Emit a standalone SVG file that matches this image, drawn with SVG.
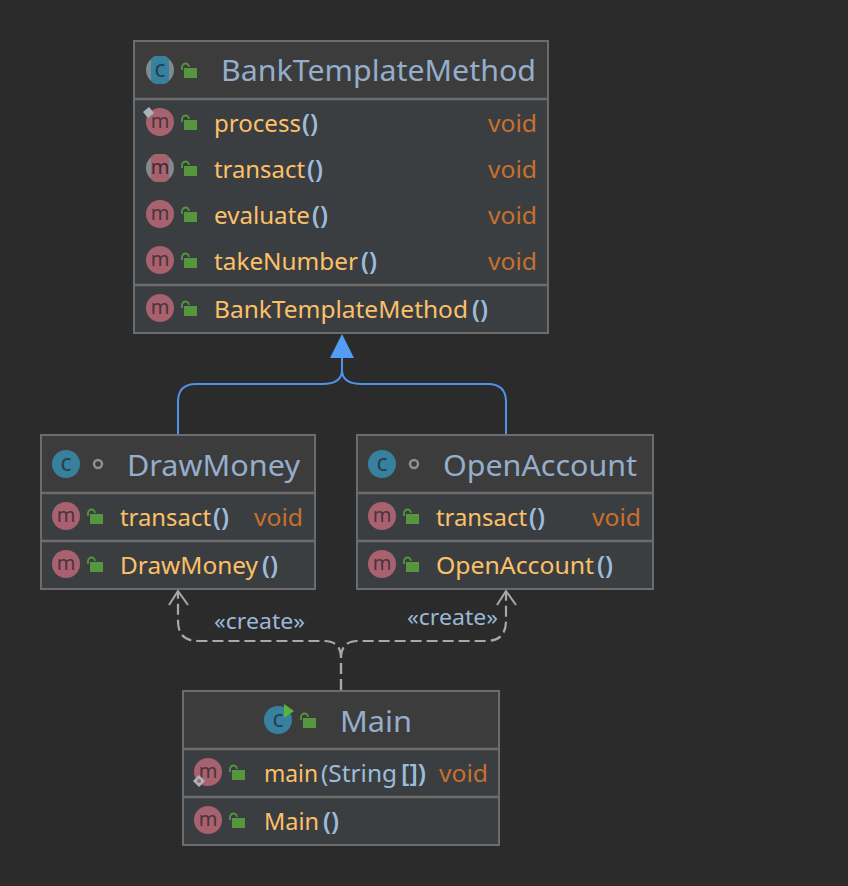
<svg xmlns="http://www.w3.org/2000/svg" width="848" height="886" viewBox="0 0 848 886">
<style>
text{font-family:"Noto Sans","Open Sans","Liberation Sans",sans-serif;font-size:24px}
.box{fill:#3b3e41;stroke:#6c6c6c;stroke-width:2}
.head{fill:#3c3c3c}
.sep{stroke:#6c6c6c;stroke-width:2.5;fill:none}
.title{fill:#94aecb;font-size:29px}
.m{fill:#fdc069}
.p{fill:#9cbcdc;font-size:26px;font-weight:600}
.a{fill:#9cbcdc}
.v{fill:#c8702d}
.st{fill:#9cb8d8;font-size:21px}
.gen{fill:none;stroke:#4f93e8;stroke-width:2}
.dash{fill:none;stroke:#a9a9a9;stroke-width:2.2;stroke-dasharray:11 5}
.open{fill:none;stroke:#a9a9a9;stroke-width:2}
</style>
<defs>
<g id="lock"><path d="M-5 0V-3a3.5 3.5 0 0 1 7 0" fill="none" stroke="#55963f" stroke-width="1.8"/><rect x="-3" y="-2" width="13" height="10" fill="#55963f"/></g>
<g id="mi"><circle r="14" fill="#a8626f"/><text x="0" y="6" text-anchor="middle" style="font-size:20px;fill:#4d3239">m</text></g>
<g id="ci"><circle r="14" fill="#37819f"/><text x="0" y="7" text-anchor="middle" style="font-size:23px;fill:#25404e">c</text></g>
<g id="pkg"><circle r="4" fill="none" stroke="#8a9095" stroke-width="2.5"/></g>
</defs>
<rect width="848" height="886" fill="#2b2b2b"/>
<g id="connectors">
<path class="gen" d="M178 434V402Q178 384 196 384H322Q342 384 342 370Q342 384 362 384H488Q506 384 506 402V434"/>
<path class="gen" d="M342 372V356"/>
<path d="M342 334L354 358H330Z" fill="#549df5"/>
<path class="dash" d="M341 690V658Q341 641 324 641H198Q178 641 178 621V593"/>
<path class="dash" d="M341 690V658Q341 641 358 641H486Q506 641 506 621V593"/>
<path class="open" d="M169 605L178 591L188 605M497 605L506 591L516 605"/>
<text class="st" x="214" y="629" textLength="91" lengthAdjust="spacingAndGlyphs">«create»</text>
<text class="st" x="407" y="625" textLength="91" lengthAdjust="spacingAndGlyphs">«create»</text>
</g>
<g id="BankTemplateMethod">
<rect class="box" x="134" y="41" width="414" height="292"/>
<rect class="head" x="135" y="42" width="412" height="57"/>
<path class="sep" d="M135 99H547M135 285H547"/>
<circle cx="160" cy="70" r="14" fill="#7f8b91"/><rect x="151" y="56" width="18" height="28" rx="5" fill="#37819f"/>
<text x="160" y="77" text-anchor="middle" style="font-size:23px;fill:#25404e">c</text>
<use href="#lock" x="187" y="70"/>
<text class="title" x="221" y="81" textLength="315" lengthAdjust="spacingAndGlyphs">BankTemplateMethod</text>
<use href="#mi" x="160" y="122"/><path d="M143 112L149 107L154 113L148 118Z" fill="#a9b4bd"/><use href="#lock" x="187" y="122"/>
<text class="m" x="214" y="132" textLength="87" lengthAdjust="spacingAndGlyphs">process</text><text class="p" x="302" y="132" textLength="16" lengthAdjust="spacingAndGlyphs">()</text><text class="v" x="488" y="132" textLength="49" lengthAdjust="spacingAndGlyphs">void</text>
<circle cx="160" cy="168" r="14" fill="#7f8b91"/><rect x="151" y="154" width="18" height="28" rx="5" fill="#a8626f"/><text x="160" y="174" text-anchor="middle" style="font-size:20px;fill:#3d2a30">m</text><use href="#lock" x="187" y="168"/>
<text class="m" x="214" y="178" textLength="91" lengthAdjust="spacingAndGlyphs">transact</text><text class="p" x="307" y="178" textLength="16" lengthAdjust="spacingAndGlyphs">()</text><text class="v" x="488" y="178" textLength="49" lengthAdjust="spacingAndGlyphs">void</text>
<use href="#mi" x="160" y="214"/><use href="#lock" x="187" y="214"/>
<text class="m" x="214" y="224" textLength="96" lengthAdjust="spacingAndGlyphs">evaluate</text><text class="p" x="312" y="224" textLength="16" lengthAdjust="spacingAndGlyphs">()</text><text class="v" x="488" y="224" textLength="49" lengthAdjust="spacingAndGlyphs">void</text>
<use href="#mi" x="160" y="260"/><use href="#lock" x="187" y="260"/>
<text class="m" x="214" y="270" textLength="144" lengthAdjust="spacingAndGlyphs">takeNumber</text><text class="p" x="361" y="270" textLength="16" lengthAdjust="spacingAndGlyphs">()</text><text class="v" x="488" y="270" textLength="49" lengthAdjust="spacingAndGlyphs">void</text>
<use href="#mi" x="160" y="308"/><use href="#lock" x="187" y="308"/>
<text class="m" x="214" y="318" textLength="254" lengthAdjust="spacingAndGlyphs">BankTemplateMethod</text><text class="p" x="472" y="318" textLength="16" lengthAdjust="spacingAndGlyphs">()</text>
</g>
<g id="DrawMoney">
<rect class="box" x="41" y="435" width="274" height="154"/>
<rect class="head" x="42" y="436" width="272" height="57"/>
<path class="sep" d="M42 493H314M42 541H314"/>
<use href="#ci" x="66" y="464"/><use href="#pkg" x="98" y="464"/>
<text class="title" x="127" y="476" textLength="173" lengthAdjust="spacingAndGlyphs">DrawMoney</text>
<use href="#mi" x="66" y="516"/><use href="#lock" x="93" y="516"/>
<text class="m" x="120" y="526" textLength="91" lengthAdjust="spacingAndGlyphs">transact</text><text class="p" x="213" y="526" textLength="16" lengthAdjust="spacingAndGlyphs">()</text><text class="v" x="254" y="526" textLength="49" lengthAdjust="spacingAndGlyphs">void</text>
<use href="#mi" x="66" y="564"/><use href="#lock" x="93" y="564"/>
<text class="m" x="120" y="574" textLength="138" lengthAdjust="spacingAndGlyphs">DrawMoney</text><text class="p" x="262" y="574" textLength="16" lengthAdjust="spacingAndGlyphs">()</text>
</g>
<g id="OpenAccount">
<rect class="box" x="357" y="435" width="296" height="154"/>
<rect class="head" x="358" y="436" width="294" height="57"/>
<path class="sep" d="M358 493H652M358 541H652"/>
<use href="#ci" x="382" y="464"/><use href="#pkg" x="414" y="464"/>
<text class="title" x="443" y="476" textLength="194" lengthAdjust="spacingAndGlyphs">OpenAccount</text>
<use href="#mi" x="382" y="516"/><use href="#lock" x="409" y="516"/>
<text class="m" x="436" y="526" textLength="91" lengthAdjust="spacingAndGlyphs">transact</text><text class="p" x="529" y="526" textLength="16" lengthAdjust="spacingAndGlyphs">()</text><text class="v" x="592" y="526" textLength="49" lengthAdjust="spacingAndGlyphs">void</text>
<use href="#mi" x="382" y="564"/><use href="#lock" x="409" y="564"/>
<text class="m" x="436" y="574" textLength="158" lengthAdjust="spacingAndGlyphs">OpenAccount</text><text class="p" x="597" y="574" textLength="16" lengthAdjust="spacingAndGlyphs">()</text>
</g>
<g id="Main">
<rect class="box" x="183" y="691" width="316" height="154"/>
<rect class="head" x="184" y="692" width="314" height="57"/>
<path class="sep" d="M184 749H498M184 797H498"/>
<use href="#ci" x="278" y="720"/><path d="M284 704L294 711L284 718Z" fill="#5bb33b"/><use href="#lock" x="306" y="720"/>
<text class="title" x="340" y="732" textLength="72" lengthAdjust="spacingAndGlyphs">Main</text>
<use href="#mi" x="208" y="772"/><path d="M193 781L199 775L205 781L199 787Z" fill="#a9b4bd"/><circle cx="199" cy="781" r="2" fill="#a8626f"/><use href="#lock" x="235" y="772"/>
<text class="m" x="264" y="782" textLength="54" lengthAdjust="spacingAndGlyphs">main</text><text class="a" x="321" y="782" textLength="76" lengthAdjust="spacingAndGlyphs">(String</text><text class="p" x="401" y="782" textLength="25" lengthAdjust="spacingAndGlyphs">[])</text><text class="v" x="439" y="782" textLength="49" lengthAdjust="spacingAndGlyphs">void</text>
<use href="#mi" x="208" y="820"/><use href="#lock" x="235" y="820"/>
<text class="m" x="264" y="830" textLength="55" lengthAdjust="spacingAndGlyphs">Main</text><text class="p" x="323" y="830" textLength="16" lengthAdjust="spacingAndGlyphs">()</text>
</g>
</svg>
